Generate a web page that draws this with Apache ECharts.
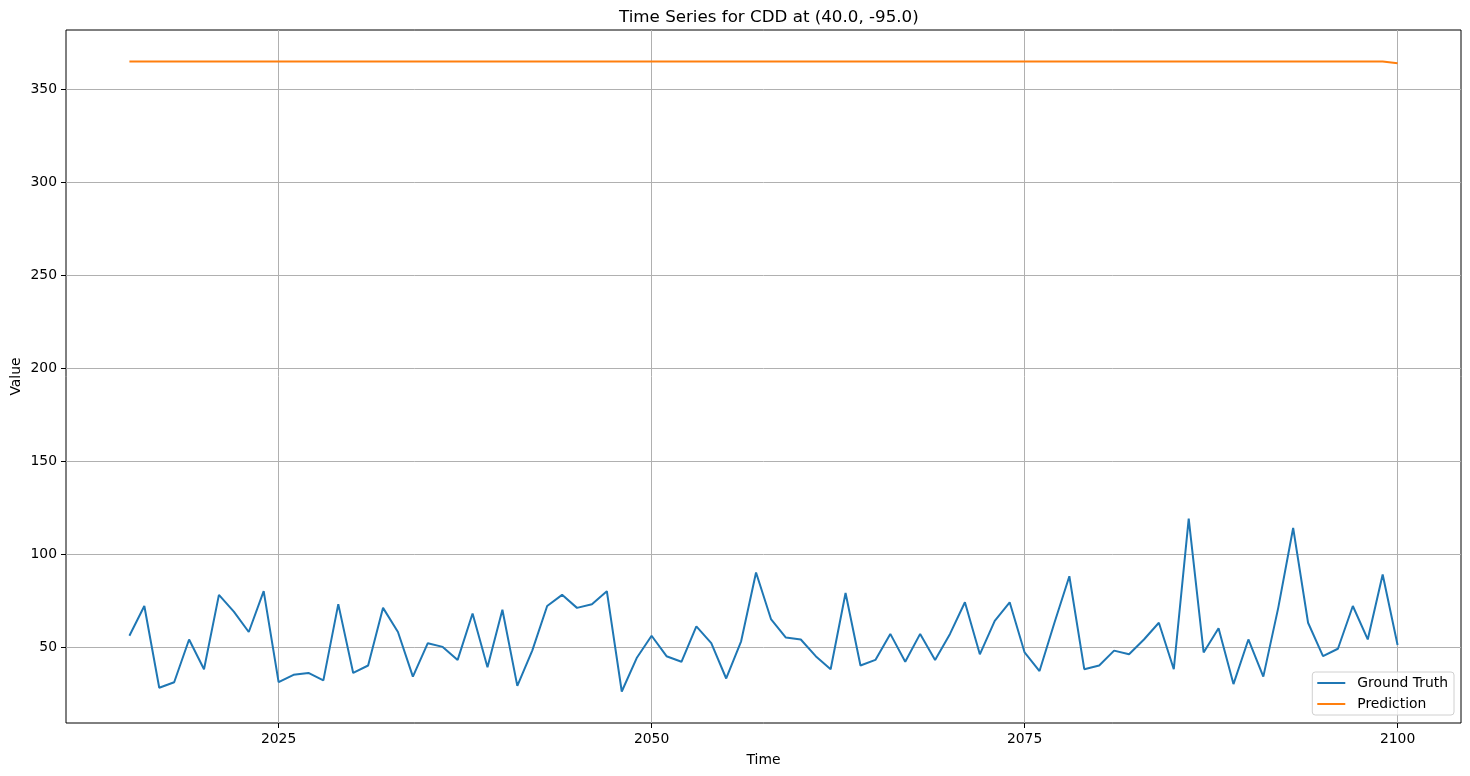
<!DOCTYPE html>
<html>
<head>
<meta charset="utf-8">
<script src="https://cdn.jsdelivr.net/npm/echarts@6/dist/echarts.min.js"></script>
<style>html,body{margin:0;padding:0;background:#fff}#c{width:1470px;height:776px}</style>
</head>
<body>
<div id="c"></div>
<script>
const years = [];
for (let y = 2015; y <= 2100; y++) years.push(y);

const groundTruth = [
  56, 72, 28, 31, 54, 38, 78, 69, 58, 80,
  31, 35, 36, 32, 73, 36, 40, 71, 58, 34,
  52, 50, 43, 68, 39, 70, 29, 48, 72, 78,
  71, 73, 80, 26, 44, 56, 45, 42, 61, 52,
  33, 53, 90, 65, 55, 54, 45, 38, 79, 40,
  43, 57, 42, 57, 43, 57, 74, 46, 64, 74,
  47, 37, 63, 88, 38, 40, 48, 46, 54, 63,
  38, 119, 47, 60, 30, 54, 34, 71, 114, 63,
  45, 49, 72, 54, 89, 51
];

const prediction = [
  365, 365, 365, 365, 365, 365, 365, 365, 365, 365,
  365, 365, 365, 365, 365, 365, 365, 365, 365, 365,
  365, 365, 365, 365, 365, 365, 365, 365, 365, 365,
  365, 365, 365, 365, 365, 365, 365, 365, 365, 365,
  365, 365, 365, 365, 365, 365, 365, 365, 365, 365,
  365, 365, 365, 365, 365, 365, 365, 365, 365, 365,
  365, 365, 365, 365, 365, 365, 365, 365, 365, 365,
  365, 365, 365, 365, 365, 365, 365, 365, 365, 365,
  365, 365, 365, 365, 365, 364
];

const xTicks = [2025, 2050, 2075, 2100];
const yTicks = [50, 100, 150, 200, 250, 300, 350];

const FONT = 'DejaVu Sans';
const chart = echarts.init(document.getElementById('c'), null, {renderer: 'canvas'});

const gtData = years.map((y, i) => [y, groundTruth[i]]);
const prData = years.map((y, i) => [y, prediction[i]]);

chart.setOption({
  animation: false,
  backgroundColor: '#fff',
  title: {
    text: 'Time Series for CDD at (40.0, -95.0)',
    left: 614, top: 4,
    textStyle: {fontFamily: FONT, fontSize: 16.7, fontWeight: 'normal', color: '#000'}
  },
  grid: {
    left: 66, right: 9, top: 30, bottom: 53,
    show: true, borderColor: '#000', borderWidth: 1, backgroundColor: 'transparent',
    containLabel: false, outerBoundsMode: 'none'
  },
  legend: {
    orient: 'vertical',
    right: 16, bottom: 61,
    data: [
      {name: 'Ground Truth', icon: 'rect'},
      {name: 'Prediction', icon: 'rect'}
    ],
    itemWidth: 28, itemHeight: 2, itemGap: 5,
    padding: [3, 6, 3, 5],
    borderColor: '#d0d0d0', borderWidth: 1, borderRadius: 3,
    backgroundColor: 'rgba(255,255,255,0.8)',
    textStyle: {fontFamily: FONT, fontSize: 13.9, color: '#000', padding: [0, 0, 0, 7], lineHeight: 16}
  },
  xAxis: {
    type: 'value',
    min: 2010.75, max: 2104.25,
    name: 'Time', nameLocation: 'middle', nameGap: 30, nameMoveOverlap: false,
    nameTextStyle: {fontFamily: FONT, fontSize: 13.9, color: '#000'},
    axisLine: {show: false},
    axisTick: {show: true, customValues: xTicks, length: 5, inside: false, lineStyle: {color: '#000', width: 1}},
    axisLabel: {customValues: xTicks, margin: 9, fontFamily: FONT, fontSize: 13.9, color: '#000',
      formatter: v => String(v)},
    splitLine: {show: true, lineStyle: {color: '#b0b0b0', width: 1}}
  },
  yAxis: {
    type: 'value',
    min: 9.05, max: 381.95,
    name: 'Value', nameLocation: 'middle', nameGap: 43, nameMoveOverlap: false,
    nameTextStyle: {fontFamily: FONT, fontSize: 13.9, color: '#000'},
    axisLine: {show: false},
    axisTick: {show: true, customValues: yTicks, length: 5, inside: false, lineStyle: {color: '#000', width: 1}},
    axisLabel: {customValues: yTicks, margin: 9, fontFamily: FONT, fontSize: 13.9, color: '#000',
      formatter: v => String(v)},
    splitLine: {show: true, lineStyle: {color: '#b0b0b0', width: 1}}
  },
  series: [
    {
      name: 'Ground Truth', type: 'line', data: gtData,
      symbol: 'none', color: '#1f77b4',
      lineStyle: {color: '#1f77b4', width: 2}
    },
    {
      name: 'Prediction', type: 'line', data: prData,
      symbol: 'none', color: '#ff7f0e',
      lineStyle: {color: '#ff7f0e', width: 2}
    }
  ]
});
</script>
</body>
</html>
